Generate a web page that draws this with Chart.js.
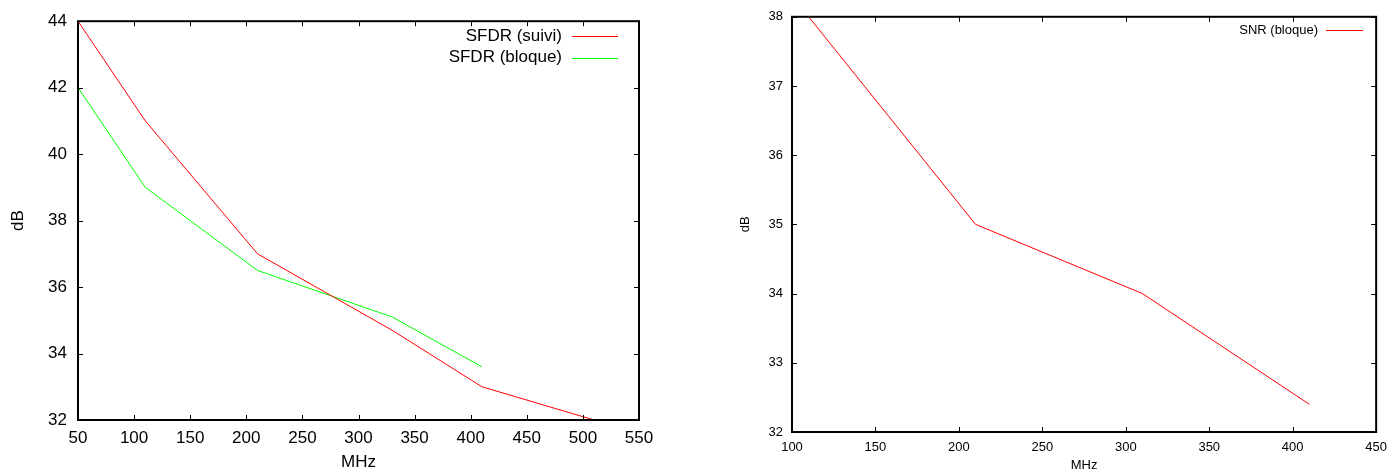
<!DOCTYPE html>
<html>
<head>
<meta charset="utf-8">
<script src="https://cdn.jsdelivr.net/npm/chart.js@4/dist/chart.umd.min.js"></script>
<style>
  html, body { margin: 0; padding: 0; background: #fff; }
  #wrap { position: relative; width: 1395px; height: 473px; overflow: hidden; }
  canvas { position: absolute; top: 0; }
  #left { left: 0; }
  #right { left: 700px; }
</style>
</head>
<body>
<div id="wrap">
  <canvas id="left" width="700" height="473"></canvas>
  <canvas id="right" width="695" height="473"></canvas>
</div>
<script>
// SFDR measurements (MHz -> dB)
const sfdrSuiviFreq = [50, 110, 210, 330, 410, 510];
const sfdrSuivi = [44, 41, 37, 34.7, 33, 32];
const sfdrBloqueFreq = [50, 110, 210, 330, 410];
const sfdrBloque = [42, 39, 36.5, 35.1, 33.6];

// SNR measurements (MHz -> dB)
const snrBloqueFreq = [110, 210, 310, 410];
const snrBloque = [38, 35, 34, 32.4];

// Axis ranges and tick steps
const leftXTicks = [50, 550, 50];
const leftYTicks = [32, 44, 2];
const rightXTicks = [100, 450, 50];
const rightYTicks = [32, 38, 1];

const FONT = "'Liberation Sans', Arial, Helvetica, sans-serif";

function pts(xs, ys) { return xs.map((x, i) => ({ x: x, y: ys[i] })); }

// Closed frame with inward, mirrored tick marks on all four sides
const framePlugin = {
  id: 'frame',
  afterDraw(chart, args, opts) {
    const ctx = chart.ctx, a = chart.chartArea;
    const xs = chart.scales.x, ys = chart.scales.y;
    const len = opts.tickLen || 5;
    ctx.save();
    ctx.strokeStyle = '#000';
    ctx.lineWidth = 1;
    ctx.beginPath();
    xs.ticks.forEach(t => {
      const px = Math.round(xs.getPixelForValue(t.value)) + 0.5;
      ctx.moveTo(px, a.bottom); ctx.lineTo(px, a.bottom - len);
      ctx.moveTo(px, a.top); ctx.lineTo(px, a.top + len);
    });
    ys.ticks.forEach(t => {
      const py = Math.round(ys.getPixelForValue(t.value)) + 0.5;
      ctx.moveTo(a.left, py); ctx.lineTo(a.left + len, py);
      ctx.moveTo(a.right, py); ctx.lineTo(a.right - len, py);
    });
    ctx.stroke();
    ctx.lineWidth = opts.borderWidth || 2;
    ctx.strokeRect(a.left, a.top, a.right - a.left, a.bottom - a.top);
    ctx.restore();
  }
};

// Key in the upper right: right-aligned label followed by a line sample
const keyPlugin = {
  id: 'key',
  afterDraw(chart, args, opts) {
    const ctx = chart.ctx;
    ctx.save();
    ctx.font = opts.fontSize + 'px ' + FONT;
    ctx.textAlign = 'right';
    ctx.textBaseline = 'middle';
    chart.data.datasets.forEach((ds, i) => {
      const y = opts.y + i * opts.rowGap;
      ctx.fillStyle = '#000';
      ctx.fillText(ds.label, opts.textRight, y);
      ctx.strokeStyle = ds.borderColor;
      ctx.lineWidth = 1;
      ctx.beginPath();
      ctx.moveTo(opts.lineStart, Math.round(y) + 0.5);
      ctx.lineTo(opts.lineEnd, Math.round(y) + 0.5);
      ctx.stroke();
    });
    ctx.restore();
  }
};

function axes(xr, yr, cfg) {
  const tickFont = { family: FONT, size: cfg.fontSize };
  return {
    x: {
      type: 'linear', min: xr[0], max: xr[1],
      grid: { display: false, drawTicks: false },
      border: { display: false },
      ticks: { stepSize: xr[2], font: tickFont, color: '#000', padding: cfg.xPad, maxRotation: 0, autoSkip: false },
      title: { display: true, text: 'MHz', font: tickFont, color: '#000', padding: { top: 0, bottom: cfg.xTitlePad } },
      afterFit: s => { s.height = cfg.xHeight; }
    },
    y: {
      type: 'linear', min: yr[0], max: yr[1],
      grid: { display: false, drawTicks: false },
      border: { display: false },
      ticks: { stepSize: yr[2], font: tickFont, color: '#000', padding: cfg.yPad, autoSkip: false },
      title: { display: true, text: 'dB', font: tickFont, color: '#000', padding: { top: cfg.yTitlePad, bottom: 0 } },
      afterFit: s => { s.width = cfg.yWidth; }
    }
  };
}

function lineSet(label, data, color) {
  return {
    label: label, data: data, borderColor: color, backgroundColor: color,
    borderWidth: 1, pointRadius: 0, tension: 0, fill: false
  };
}

new Chart(document.getElementById('left'), {
  type: 'line',
  data: {
    datasets: [
      lineSet('SFDR (suivi)', pts(sfdrSuiviFreq, sfdrSuivi), '#ff0000'),
      lineSet('SFDR (bloque)', pts(sfdrBloqueFreq, sfdrBloque), '#00ff00')
    ]
  },
  options: {
    responsive: false, animation: false, devicePixelRatio: 1,
    layout: { padding: { top: 20, right: 61, left: 0, bottom: 0 } },
    scales: axes(leftXTicks, leftYTicks, { fontSize: 17, xPad: 8, yPad: 11, xHeight: 53, yWidth: 78, xTitlePad: 0, yTitlePad: 8 }),
    plugins: {
      legend: { display: false }, tooltip: { enabled: false },
      frame: { tickLen: 5, borderWidth: 2 },
      key: { fontSize: 17, textRight: 562, lineStart: 572, lineEnd: 618, y: 36, rowGap: 21.5 }
    }
  },
  plugins: [framePlugin, keyPlugin]
});

new Chart(document.getElementById('right'), {
  type: 'line',
  data: {
    datasets: [
      lineSet('SNR (bloque)', pts(snrBloqueFreq, snrBloque), '#ff0000')
    ]
  },
  options: {
    responsive: false, animation: false, devicePixelRatio: 1,
    layout: { padding: { top: 15, right: 16, left: 0, bottom: 0 } },
    scales: axes(rightXTicks, rightYTicks, { fontSize: 13, xPad: 8, yPad: 9, xHeight: 41, yWidth: 92, xTitlePad: 0, yTitlePad: 38 }),
    plugins: {
      legend: { display: false }, tooltip: { enabled: false },
      frame: { tickLen: 5, borderWidth: 2 },
      key: { fontSize: 13, textRight: 618, lineStart: 626, lineEnd: 663, y: 30, rowGap: 18 }
    }
  },
  plugins: [framePlugin, keyPlugin]
});
</script>
</body>
</html>
